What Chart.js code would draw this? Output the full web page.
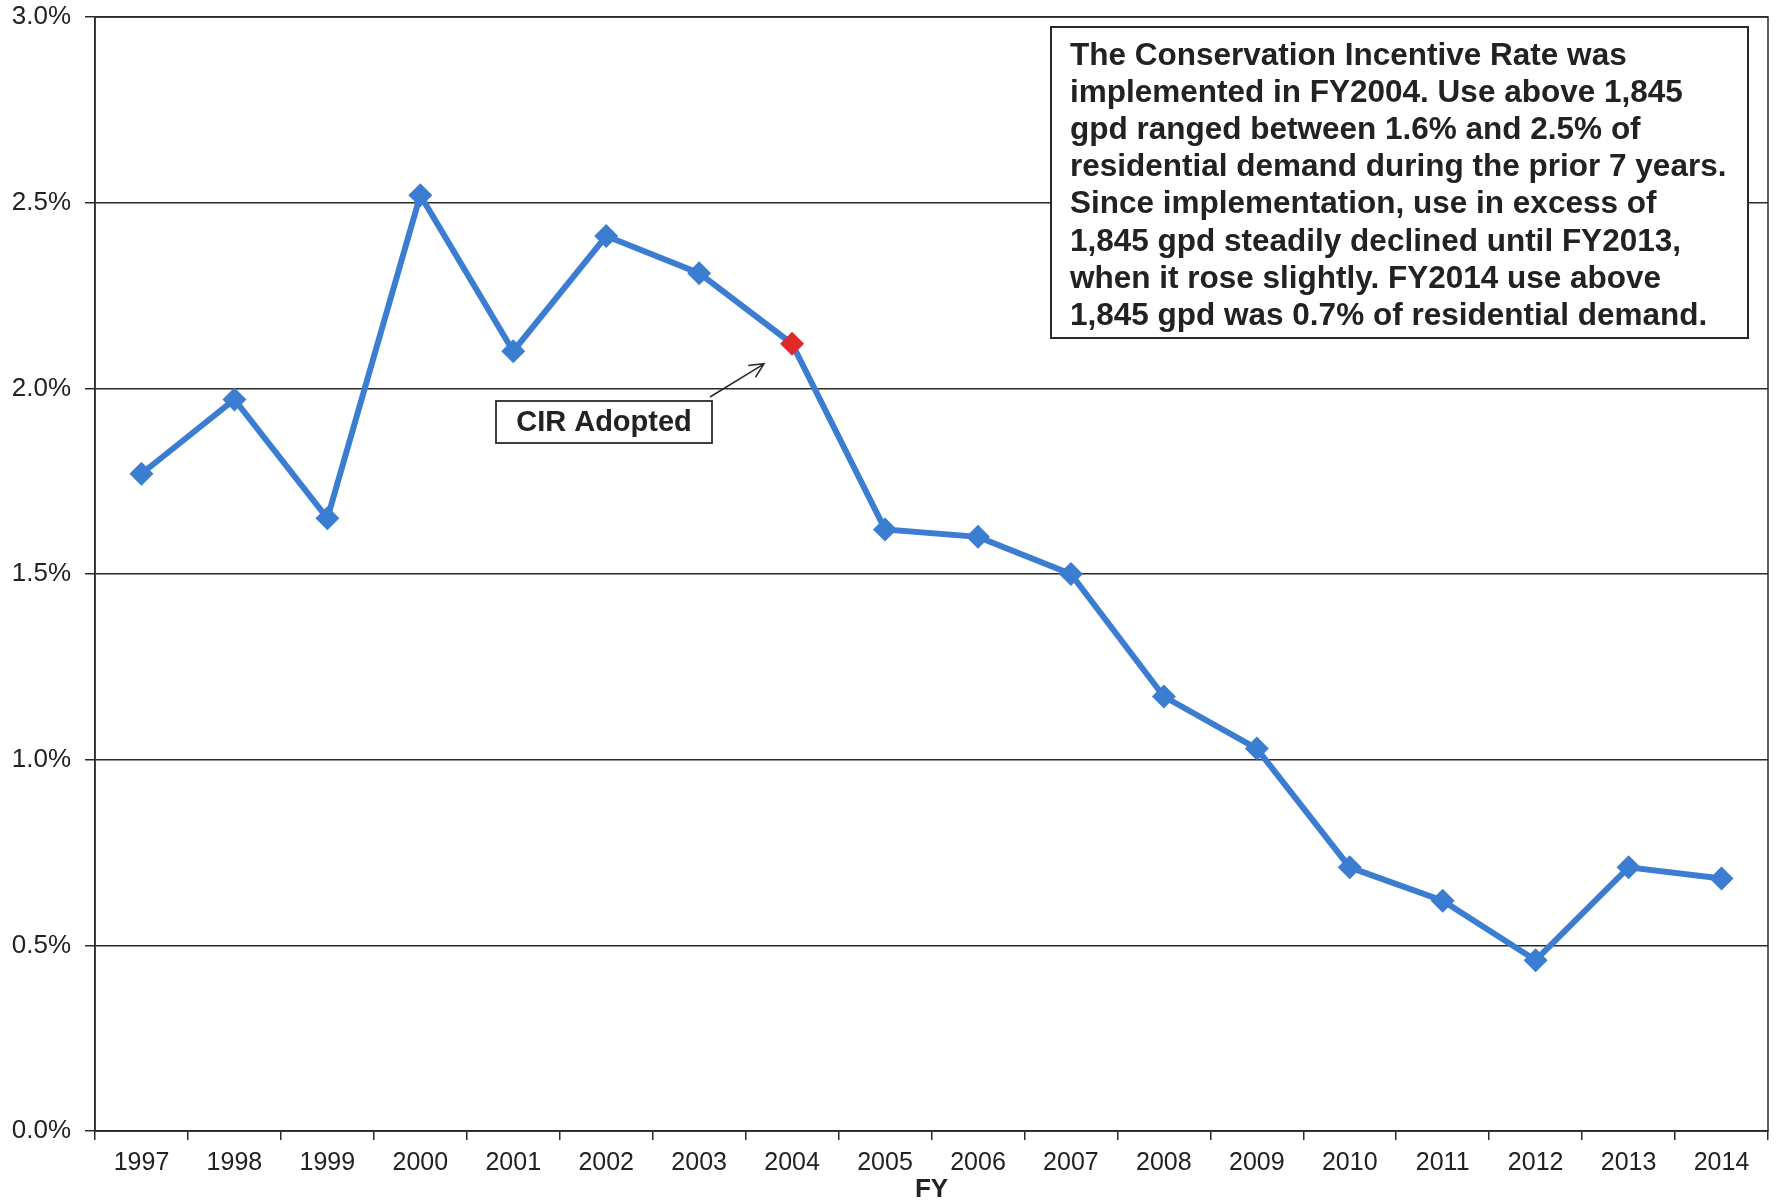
<!DOCTYPE html>
<html lang="en">
<head>
  <meta charset="UTF-8" />
  <title>Use above 1,845 gpd, share of residential demand</title>
  <script src="https://cdn.jsdelivr.net/npm/chart.js"></script>
  <style>
    html, body {
      margin: 0;
      padding: 0;
      background: #fff;
    }
    #useChart {
      display: block;
    }
  </style>
</head>
<body>
  <canvas id="useChart" width="1780" height="1203"></canvas>

  <script>
    // Fiscal years and share of residential demand above 1,845 gpd (%)
    const years = [
      "1997", "1998", "1999", "2000", "2001", "2002", "2003", "2004", "2005",
      "2006", "2007", "2008", "2009", "2010", "2011", "2012", "2013", "2014"
    ];
    const sharePct = [
      1.77, 1.97, 1.65, 2.52, 2.10, 2.41, 2.31, 2.12, 1.62,
      1.60, 1.50, 1.17, 1.03, 0.71, 0.62, 0.46, 0.71, 0.68
    ];
    const yTicks = [0, 0.5, 1.0, 1.5, 2.0, 2.5, 3.0];
    const adoptedYear = "2004";

    const noteLines = [
      "The Conservation Incentive Rate was",
      "implemented in FY2004. Use above 1,845",
      "gpd ranged between 1.6% and 2.5% of",
      "residential demand during the prior 7 years.",
      "Since implementation, use in excess of",
      "1,845 gpd steadily declined until FY2013,",
      "when it rose slightly. FY2014 use above",
      "1,845 gpd was 0.7% of residential demand."
    ];
    const cirLabel = "CIR Adopted";

    const lineBlue = "#3b7dd1";
    const markRed = "#e02a2a";
    const ink = "#2a2a2a";
    const font = "Arial, 'Liberation Sans', sans-serif";

    const pointColors = years.map(y => y === adoptedYear ? markRed : lineBlue);

    // frame round the plot, the note box and the CIR callout
    const extras = {
      id: "extras",
      afterDraw(chart) {
        const ctx = chart.ctx;
        const a = chart.chartArea;
        ctx.save();

        ctx.strokeStyle = ink;
        ctx.lineWidth = 1.5;
        ctx.strokeRect(a.left, a.top, a.right - a.left, a.bottom - a.top);

        // note box, top right of the plot
        const bx = 1051, by = 27, bw = 697, bh = 311;
        ctx.fillStyle = "#fff";
        ctx.fillRect(bx, by, bw, bh);
        ctx.lineWidth = 2;
        ctx.strokeRect(bx, by, bw, bh);
        ctx.fillStyle = "#222";
        ctx.font = "bold 31.5px " + font;
        ctx.textBaseline = "middle";
        ctx.textAlign = "left";
        noteLines.forEach((t, i) => ctx.fillText(t, bx + 19, by + 29 + i * 37.2));

        // CIR Adopted callout with arrow to the adoption year
        const xs = chart.scales.x, ys = chart.scales.y;
        const i = years.indexOf(adoptedYear);
        const px = xs.getPixelForValue(i);
        const py = ys.getPixelForValue(sharePct[i]);
        const cx = 496, cy = 401, cw = 216, ch = 42;
        ctx.fillStyle = "#fff";
        ctx.fillRect(cx, cy, cw, ch);
        ctx.lineWidth = 1.8;
        ctx.strokeRect(cx, cy, cw, ch);
        ctx.fillStyle = "#222";
        ctx.textAlign = "center";
        ctx.font = "bold 29px " + font;
        ctx.fillText(cirLabel, cx + cw / 2, cy + ch / 2 + 1);

        const tx = px - 28, ty = py + 20;
        const sx = cx + cw - 2, sy = cy - 4;
        ctx.lineWidth = 1.5;
        ctx.beginPath();
        ctx.moveTo(sx, sy);
        ctx.lineTo(tx, ty);
        const ang = Math.atan2(ty - sy, tx - sx);
        ctx.moveTo(tx - 16 * Math.cos(ang - 0.45), ty - 16 * Math.sin(ang - 0.45));
        ctx.lineTo(tx, ty);
        ctx.lineTo(tx - 16 * Math.cos(ang + 0.45), ty - 16 * Math.sin(ang + 0.45));
        ctx.stroke();

        ctx.restore();
      }
    };

    const whiteBg = {
      id: "whiteBg",
      beforeDraw(chart) {
        const ctx = chart.ctx;
        ctx.save();
        ctx.fillStyle = "#fff";
        ctx.fillRect(0, 0, chart.width, chart.height);
        ctx.restore();
      }
    };

    new Chart(document.getElementById("useChart").getContext("2d"), {
      type: "line",
      data: {
        labels: years,
        datasets: [{
          label: "Use above 1,845 gpd",
          data: sharePct,
          borderColor: lineBlue,
          borderWidth: 6,
          pointStyle: "rectRot",
          pointRadius: 12,
          pointBorderWidth: 0,
          pointBackgroundColor: pointColors,
          pointBorderColor: pointColors,
          tension: 0
        }]
      },
      options: {
        responsive: false,
        animation: false,
        layout: { padding: { left: 0, right: 9, top: 17, bottom: 0 } },
        plugins: {
          legend: { display: false },
          tooltip: { enabled: false }
        },
        scales: {
          x: {
            offset: true,
            grid: {
              offset: true,
              drawOnChartArea: false,
              drawTicks: true,
              tickLength: 9,
              color: ink,
              lineWidth: 1.5
            },
            border: { display: true, color: ink, width: 1.5 },
            ticks: {
              color: "#222",
              font: { family: font, size: 25 },
              maxRotation: 0,
              autoSkip: false,
              padding: 8
            },
            title: {
              display: true,
              text: "FY",
              color: "#222",
              font: { family: font, size: 26, weight: "bold", lineHeight: 1 },
              padding: { top: 0, bottom: 0 }
            },
            afterFit(scale) { scale.height = 72; }
          },
          y: {
            min: 0,
            max: 3,
            afterBuildTicks(scale) { scale.ticks = yTicks.map(v => ({ value: v })); },
            grid: {
              color: ink,
              lineWidth: 1.5,
              tickLength: 10
            },
            border: { display: true, color: ink, width: 1.5 },
            ticks: {
              color: "#222",
              font: { family: font, size: 26 },
              padding: 14,
              callback: v => v.toFixed(1) + "%"
            },
            afterFit(scale) {
              scale.width = 95;
              scale.paddingTop = 0;
              scale.paddingBottom = 0;
            }
          }
        }
      },
      plugins: [whiteBg, extras]
    });
  </script>
</body>
</html>
